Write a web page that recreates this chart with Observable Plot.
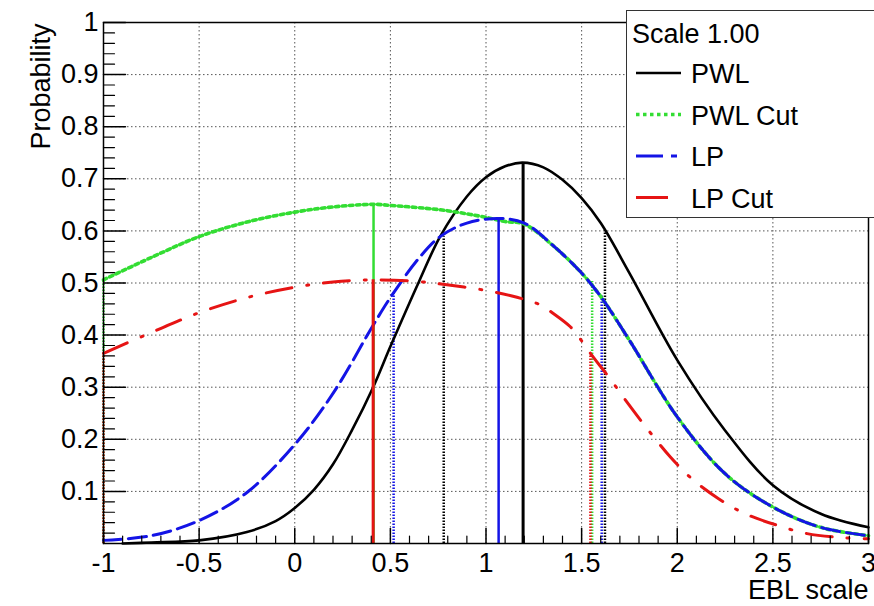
<!DOCTYPE html>
<html>
<head>
<meta charset="utf-8">
<script src="https://cdn.jsdelivr.net/npm/d3@7"></script>
<script src="https://cdn.jsdelivr.net/npm/@observablehq/plot@0.6"></script>
<style>
  body { margin: 0; background: #fff; }
  #wrap { position: relative; width: 874px; height: 606px; font-family: "Liberation Sans", Arial, sans-serif; }
  #legend { position: absolute; left: 626px; top: 10px; width: 270px; height: 208px; border: 1.5px solid #333; background: #fff; box-sizing: border-box; }
</style>
</head>
<body>
<div id="wrap"><div id="chart"></div><div id="legend"></div></div>
<script>
// ---- tick values / labels ----
const xMajor = [-1, -0.5, 0, 0.5, 1, 1.5, 2, 2.5, 3];
const xLabels = ["-1", "-0.5", "0", "0.5", "1", "1.5", "2", "2.5", "3"];
const yMajor = [0.1, 0.2, 0.3, 0.4, 0.5, 0.6, 0.7, 0.8, 0.9, 1];
const yLabels = ["0.1", "0.2", "0.3", "0.4", "0.5", "0.6", "0.7", "0.8", "0.9", "1"];
const xGrid = [-0.5, 0, 0.5, 1, 1.5, 2, 2.5];
const yGrid = [0.1, 0.2, 0.3, 0.4, 0.5, 0.6, 0.7, 0.8, 0.9];

// ---- series ----
const pwlX = [-0.9, -0.75, -0.5, -0.25, -0.1, 0, 0.1, 0.2, 0.3, 0.41, 0.5, 0.65, 0.76, 0.9, 1.0, 1.1, 1.19, 1.3, 1.4, 1.5, 1.6, 1.75, 2.0, 2.25, 2.5, 2.75, 3.0];
const pwlY = [0.0, 0.002, 0.006, 0.022, 0.043, 0.068, 0.103, 0.152, 0.218, 0.30, 0.378, 0.503, 0.589, 0.666, 0.703, 0.724, 0.731, 0.722, 0.698, 0.663, 0.615, 0.519, 0.352, 0.217, 0.112, 0.057, 0.031];

const pwlCutX = [-1, -0.75, -0.5, -0.25, 0, 0.2, 0.41, 0.5, 0.75, 0.83, 1.0, 1.1, 1.2, 1.35, 1.5, 1.6, 1.75, 2.0, 2.25, 2.5, 2.75, 3.0];
const pwlCutY = [0.506, 0.549, 0.589, 0.617, 0.636, 0.646, 0.651, 0.649, 0.641, 0.637, 0.626, 0.618, 0.613, 0.572, 0.519, 0.474, 0.39, 0.243, 0.134, 0.07, 0.031, 0.015];

const lpX = [-1, -0.75, -0.5, -0.25, 0, 0.2, 0.41, 0.5, 0.65, 0.76, 0.9, 1.066, 1.2, 1.35, 1.5, 1.6, 1.75, 2.0, 2.25, 2.5, 2.75, 3.0];
const lpY = [0.006, 0.015, 0.044, 0.098, 0.19, 0.288, 0.419, 0.472, 0.548, 0.589, 0.615, 0.624, 0.615, 0.572, 0.519, 0.474, 0.39, 0.243, 0.134, 0.07, 0.031, 0.015];

const lpCutX = [-1, -0.75, -0.5, -0.25, 0, 0.2, 0.41, 0.64, 0.805, 0.98, 1.136, 1.223, 1.284, 1.35, 1.441, 1.49, 1.546, 1.651, 1.746, 1.85, 1.964, 2.077, 2.216, 2.356, 2.522, 2.679, 2.87, 3.0];
const lpCutY = [0.365, 0.405, 0.443, 0.472, 0.492, 0.502, 0.506, 0.503, 0.496, 0.487, 0.475, 0.466, 0.458, 0.442, 0.416, 0.394, 0.365, 0.315, 0.267, 0.217, 0.166, 0.124, 0.086, 0.057, 0.035, 0.019, 0.011, 0.009];

// peak (solid) and interval (dotted) markers
const seriesNames = ["PWL", "PWL Cut", "LP", "LP Cut"];
const seriesColors = ["#000000", "#33dd33", "#1414e6", "#e61414"];
const peakX = [1.194, 0.412, 1.066, 0.41];
const peakY = [0.731, 0.651, 0.624, 0.506];
const loX = [0.779, -1, 0.517, -1];
const loY = [0.589, 0.506, 0.480, 0.365];
const hiX = [1.622, 1.555, 1.605, 1.546];
const hiY = [0.600, 0.503, 0.476, 0.365];

const mk = (xs, ys) => xs.map((x, i) => ({x, y: ys[i]}));
const curves = [mk(pwlX, pwlY), mk(pwlCutX, pwlCutY), mk(lpX, lpY), mk(lpCutX, lpCutY)];
const styles = [
  {strokeWidth: 2.6},
  {strokeWidth: 3.6, strokeDasharray: "3.5,3.5"},
  {strokeWidth: 3, strokeDasharray: "18,7"},
  {strokeWidth: 3, strokeDasharray: "26,15,2,15"}
];
const peakWidths = [3, 2.5, 2.5, 3];

const xMinor = d3.range(-10, 31).map(i => i / 10).filter(v => Math.abs(v * 2 - Math.round(v * 2)) > 1e-6);
const yMinor = d3.range(1, 50).map(i => i / 50).filter(v => Math.abs(v * 10 - Math.round(v * 10)) > 1e-6);

const tickShape = {draw(context, l) { context.moveTo(0, 0); context.lineTo(0, -l); }};

const marks = [
  Plot.gridX(xGrid, {x: d => d, stroke: "#555", strokeOpacity: 1, strokeWidth: 1, strokeDasharray: "1.5,2.5"}),
  Plot.gridY(yGrid, {y: d => d, stroke: "#555", strokeOpacity: 1, strokeWidth: 1, strokeDasharray: "1.5,2.5"})
];
[0, 1, 2, 3].forEach(k => {
  const c = seriesColors[k];
  marks.push(Plot.ruleX([k], {x: i => loX[i], y1: 0, y2: i => loY[i], stroke: c, strokeWidth: 2.5, strokeDasharray: "1.5,1.5"}));
  marks.push(Plot.ruleX([k], {x: i => hiX[i], y1: 0, y2: i => hiY[i], stroke: c, strokeWidth: 2.5, strokeDasharray: "1.5,1.5"}));
});
// order: PWL, PWL Cut, LP, LP Cut
[0, 1, 2, 3].forEach(k => {
  const c = seriesColors[k];
  marks.push(Plot.line(curves[k], {x: "x", y: "y", stroke: c, curve: "catmull-rom", ...styles[k]}));
  marks.push(Plot.ruleX([k], {x: i => peakX[i], y1: 0, y2: i => peakY[i], stroke: c, strokeWidth: peakWidths[k]}));
});
marks.push(
  Plot.vector(yMinor, {x: -1, y: d => d, length: 11, rotate: 90, anchor: "start", shape: tickShape, stroke: "#000", strokeWidth: 1.2}),
  Plot.vector(yMajor, {x: -1, y: d => d, length: 22, rotate: 90, anchor: "start", shape: tickShape, stroke: "#000", strokeWidth: 1.5}),
  Plot.vector(xMinor, {x: d => d, y: 0, length: 7.5, rotate: 0, anchor: "start", shape: tickShape, stroke: "#000", strokeWidth: 1.2}),
  Plot.vector(xMajor, {x: d => d, y: 0, length: 15, rotate: 0, anchor: "start", shape: tickShape, stroke: "#000", strokeWidth: 1.5}),
  Plot.frame({stroke: "#000", strokeWidth: 1.5}),
  Plot.axisX(xMajor, {tickSize: 0, tickPadding: 9, fontSize: 27, label: null, tickFormat: d => xLabels[xMajor.indexOf(d)]}),
  Plot.axisY(yMajor, {tickSize: 0, tickPadding: 5, fontSize: 27, label: null, tickFormat: d => yLabels[yMajor.indexOf(d)]}),
  Plot.text(["Probability"], {frameAnchor: "top-left", dx: -73, dy: 1, rotate: -90, textAnchor: "end", fontSize: 27, text: d => d}),
  Plot.text(["EBL scale"], {frameAnchor: "bottom-right", dx: 0, dy: 55, textAnchor: "end", fontSize: 27, text: d => d})
);

const chart = Plot.plot({
  width: 874, height: 606,
  marginLeft: 103, marginRight: 6, marginTop: 22, marginBottom: 63,
  style: {fontFamily: "'Liberation Sans', Arial, sans-serif", fontSize: "27px", color: "#000", background: "#fff"},
  x: {domain: [-1, 3]},
  y: {domain: [0, 1]},
  marks
});
document.getElementById("chart").appendChild(chart);

// legend
const lg = d3.select("#legend").append("svg").attr("width", 270).attr("height", 208).style("display", "block");
lg.append("text").attr("x", 5).attr("y", 32).attr("font-size", 27).text("Scale 1.00");
const legDash = [null, "3.5,3.5", "27,8,6,200", "32,200"];
const legW = [2.6, 3.6, 3, 3];
seriesNames.forEach((name, k) => {
  const cy = 62 + k * 41.5;
  lg.append("line").attr("x1", 9).attr("x2", 54).attr("y1", cy).attr("y2", cy)
    .attr("stroke", seriesColors[k]).attr("stroke-width", legW[k]).attr("stroke-dasharray", legDash[k]);
  lg.append("text").attr("x", 64).attr("y", cy + 10).attr("font-size", 27).text(name);
});
</script>
</body>
</html>
